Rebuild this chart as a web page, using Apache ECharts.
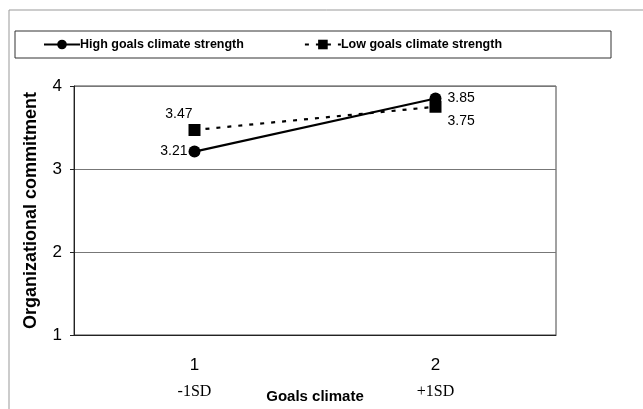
<!DOCTYPE html>
<html>
<head>
<meta charset="utf-8">
<script src="https://cdn.jsdelivr.net/npm/echarts@6/dist/echarts.min.js"></script>
<style>
  html, body { margin: 0; padding: 0; background: #fff; }
  #main { width: 643px; height: 409px; }
</style>
</head>
<body>
<div id="main"></div>
<script>
// data
var categories = ['1', '2'];
var sdLabels = ['-1SD', '+1SD'];
var highVals = [3.21, 3.85];
var lowVals = [3.47, 3.75];
var yTicks = [1, 2, 3, 4];

var chart = echarts.init(document.getElementById('main'));

// label placement for each point
var highData = highVals.map(function (v, i) {
  return { value: v, label: { position: i === 0 ? 'left' : 'right', offset: i === 0 ? [0, 0] : [5, 0] } };
});
var lowData = lowVals.map(function (v, i) {
  return { value: v, label: { position: i === 0 ? 'left' : 'right', offset: i === 0 ? [10, -16] : [0, 14] } };
});

var option = {
  backgroundColor: '#fff',
  animation: false,
  graphic: [
    { type: 'rect', shape: { x: 9, y: 10, width: 660, height: 420 }, style: { fill: 'none', stroke: '#999', lineWidth: 1 } },
    { type: 'rect', shape: { x: 15, y: 31, width: 596, height: 27 }, style: { fill: 'none', stroke: '#333', lineWidth: 1 } }
  ],
  legend: {
    top: 38,
    left: 43,
    padding: 0,
    itemWidth: 36,
    itemHeight: 12,
    itemGap: 60,
    textStyle: { fontFamily: 'Liberation Sans', fontWeight: 'bold', fontSize: 12.5, color: '#000', padding: [0, 0, 0, -5] },
    data: ['High goals climate strength', 'Low goals climate strength']
  },
  grid: { left: 74, top: 86, right: 87, bottom: 74, show: true, borderColor: '#444', borderWidth: 1, outerBoundsMode: 'none', containLabel: false },
  xAxis: {
    type: 'category',
    data: categories,
    name: 'Goals climate',
    nameLocation: 'middle',
    nameGap: 54,
    nameMoveOverlap: false,
    nameTextStyle: { fontFamily: 'Liberation Sans', fontWeight: 'bold', fontSize: 15, color: '#000' },
    axisLine: { lineStyle: { color: '#222', width: 1 } },
    axisTick: { length: 5, lineStyle: { color: '#222' } },
    axisLabel: {
      margin: 15,
      formatter: function (v, i) { return '{n|' + v + '}\n{s|' + sdLabels[i] + '}'; },
      rich: {
        n: { fontFamily: 'Liberation Sans', fontSize: 17, color: '#000', height: 30 },
        s: { fontFamily: 'Liberation Serif', fontSize: 16, color: '#000', height: 24 }
      }
    }
  },
  yAxis: {
    type: 'value',
    min: yTicks[0],
    max: yTicks[yTicks.length - 1],
    interval: 1,
    name: 'Organizational commitment',
    nameLocation: 'middle',
    nameGap: 34,
    nameTextStyle: { fontFamily: 'Liberation Sans', fontWeight: 'bold', fontSize: 18, color: '#000' },
    axisLine: { show: true, lineStyle: { color: '#222', width: 1 } },
    axisTick: { show: true, length: 4, lineStyle: { color: '#222' } },
    axisLabel: { margin: 12, fontFamily: 'Liberation Sans', fontSize: 17, color: '#000' },
    splitLine: { lineStyle: { color: '#777', width: 1 } }
  },
  series: [
    {
      name: 'High goals climate strength',
      type: 'line',
      data: highData,
      symbol: 'circle',
      symbolSize: 12,
      lineStyle: { color: '#000', width: 2.2 },
      itemStyle: { color: '#000' },
      label: { show: true, fontFamily: 'Liberation Sans', fontSize: 14, color: '#000', distance: 1 }
    },
    {
      name: 'Low goals climate strength',
      type: 'line',
      data: lowData,
      symbol: 'rect',
      symbolSize: 12,
      lineStyle: { color: '#000', width: 2.2, type: [4, 7] },
      itemStyle: { color: '#000' },
      label: { show: true, fontFamily: 'Liberation Sans', fontSize: 14, color: '#000', distance: 6 }
    }
  ]
};

chart.setOption(option);
</script>
</body>
</html>
